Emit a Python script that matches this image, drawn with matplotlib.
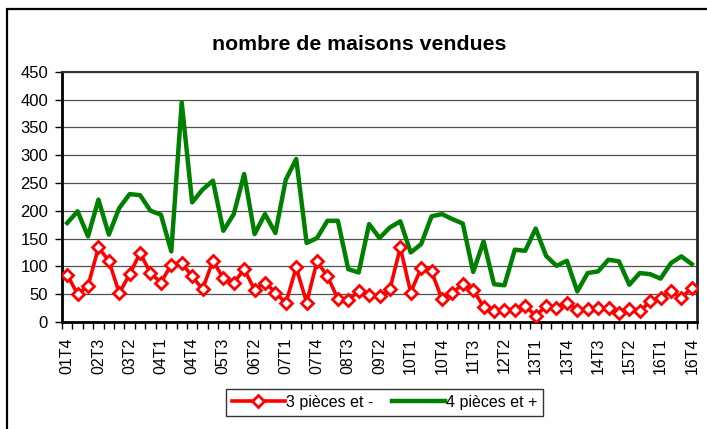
import matplotlib
matplotlib.use("Agg")
import matplotlib.pyplot as plt
from matplotlib.patches import Rectangle
from matplotlib.ticker import FixedLocator

plt.rcParams['font.family'] = ['Liberation Sans', 'DejaVu Sans']

# quarters 2001 T4 .. 2016 T4
quarters = [f"{y % 100:02d}T{q}" for y in range(2001, 2017) for q in range(1, 5)][3:]

small = [85, 50, 65, 134, 110, 52, 86, 124, 88, 71, 103, 106, 82, 59, 110, 79, 70, 95, 58, 71,
         53, 34, 98, 35, 109, 82, 42, 40, 55, 49, 46, 59, 134, 53, 97, 91, 41, 52, 68, 58,
         27, 20, 22, 22, 29, 11, 29, 26, 35, 22, 23, 25, 25, 17, 23, 19, 37, 44, 56, 43, 62]
large = [178, 199, 154, 220, 157, 205, 230, 228, 200, 193, 127, 395, 215, 238, 254, 164, 194, 266, 158, 194,
         160, 256, 293, 142, 151, 182, 182, 95, 89, 176, 151, 170, 181, 125, 140, 190, 194, 185, 177, 90,
         145, 68, 66, 130, 128, 168, 119, 101, 110, 55, 88, 91, 112, 109, 67, 88, 86, 78, 106, 118, 104]

fig = plt.figure(figsize=(7.07, 4.29), dpi=100)
ax = fig.add_axes([62/707, 1 - 322/429, 635/707, 250.3/429])

x = list(range(len(quarters)))
ax.plot(x, small, color='#ff0000', lw=2.6, marker='D', ms=6.5, mfc='white',
        mec='#ff0000', mew=2, label='3 pièces et -', zorder=4)
ax.plot(x, large, color='#008000', lw=3.2, label='4 pièces et +', zorder=3)

ax.set_xlim(-0.5, len(quarters) - 0.5)
ax.set_ylim(0, 450)
ax.set_yticks(range(0, 451, 50))
ax.yaxis.grid(True, color='#505050', lw=0.9)
ax.set_axisbelow(True)

ax.set_xticks(x[::3])
ax.set_xticklabels(quarters[::3], rotation=90)
ax.xaxis.set_minor_locator(FixedLocator([i - 0.5 for i in range(len(quarters) + 1)]))
ax.tick_params(axis='x', which='major', length=0, pad=11, labelsize=11.5)
ax.tick_params(axis='x', which='minor', length=5, width=1, direction='out')
ax.tick_params(axis='y', length=5, width=1, pad=5, labelsize=12)

ax.spines['left'].set_linewidth(2)
ax.spines['bottom'].set_linewidth(2)
ax.spines['top'].set_color('#333333')
ax.spines['right'].set_color('#222222')
ax.spines['top'].set_linewidth(1.5)
ax.spines['right'].set_linewidth(2)

fig.text(359/707, 1 - 45/429, 'nombre de maisons vendues', ha='center', va='center',
         fontsize=15.3, fontweight='bold')

leg = fig.legend(loc='center', bbox_to_anchor=(384.5/707, 1 - 402.5/429), ncol=2,
                 fontsize=11.5, frameon=True, fancybox=False, edgecolor='black',
                 handlelength=3.3, handletextpad=0.05, columnspacing=1.2, borderpad=0.35)
leg.get_frame().set_linewidth(1)

# outer chart border
fig.add_artist(Rectangle((7/707, -0.1), 1.1, 1.1 - 9/429, transform=fig.transFigure,
                         fill=False, edgecolor='black', lw=1.6))

fig.savefig('out.png', dpi=100)
